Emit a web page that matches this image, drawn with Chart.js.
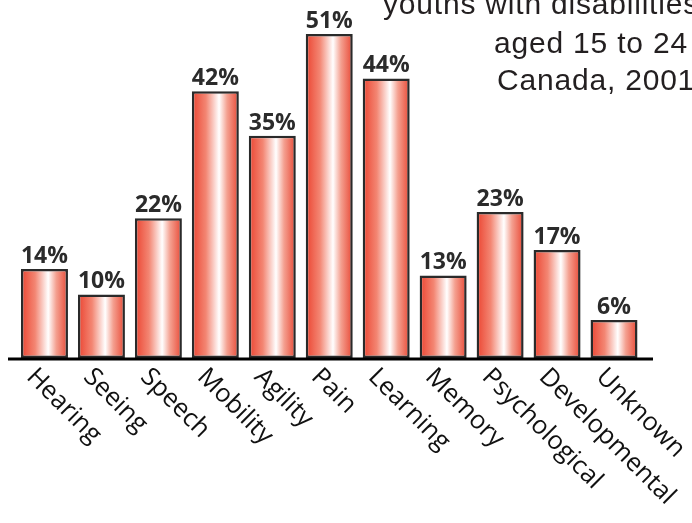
<!DOCTYPE html>
<html>
<head>
<meta charset="utf-8">
<script src="https://cdn.jsdelivr.net/npm/chart.js@4.4.1/dist/chart.umd.min.js"></script>
<style>
  html, body { margin: 0; padding: 0; background: #ffffff; }
  #wrap { width: 692px; height: 523px; position: relative; overflow: hidden; }
</style>
</head>
<body>
<div id="wrap"><canvas id="c" width="692" height="523"></canvas></div>
<script>
// Type of disability, youths aged 15 to 24 (percent)
const categories = ['Hearing', 'Seeing', 'Speech', 'Mobility', 'Agility', 'Pain',
  'Learning', 'Memory', 'Psychological', 'Developmental', 'Unknown'];
const percentages = [14, 10, 22, 42, 35, 51, 44, 13, 23, 17, 6];
const titleLines = ['youths with disabilities', 'aged 15 to 24', 'Canada, 2001'];

const BAR_FRACTION = 0.825;

// Horizontal red-white-red shading for each bar
function barGradient(context) {
  const chart = context.chart;
  const xs = chart.scales.x;
  if (!xs || !chart.chartArea) return '#ee4b39';
  const cx = xs.getPixelForValue(context.dataIndex);
  const w = (xs.width / categories.length) * BAR_FRACTION;
  const g = chart.ctx.createLinearGradient(cx - w / 2, 0, cx + w / 2, 0);
  g.addColorStop(0.00, '#eb4431');
  g.addColorStop(0.30, '#f38673');
  g.addColorStop(0.58, '#ffffff');
  g.addColorStop(0.75, '#f4a090');
  g.addColorStop(1.00, '#e84835');
  return g;
}

const decorations = {
  id: 'decorations',
  afterDatasetsDraw(chart) {
    const ctx = chart.ctx;
    const xs = chart.scales.x;
    const ys = chart.scales.y;
    const area = chart.chartArea;
    const base = ys.getPixelForValue(0);

    ctx.save();
    // baseline axis
    ctx.strokeStyle = '#000000';
    ctx.lineWidth = 3;
    ctx.beginPath();
    ctx.moveTo(area.left - 8, base + 1);
    ctx.lineTo(area.right + 10.5, base + 1);
    ctx.stroke();

    // value labels above bars
    ctx.fillStyle = '#2b2b2b';
    ctx.font = 'bold 23px "Open Sans", "Noto Sans", sans-serif';
    ctx.textAlign = 'center';
    ctx.textBaseline = 'alphabetic';
    percentages.forEach((v, i) => {
      const x = xs.getPixelForValue(i);
      const y = ys.getPixelForValue(v);
      ctx.fillText(v + '%', x, y - 6);
    });

    // slanted category labels
    ctx.fillStyle = '#111111';
    ctx.font = '25.5px "Open Sans", "Noto Sans", sans-serif';
    ctx.textAlign = 'left';
    categories.forEach((label, i) => {
      const x = xs.getPixelForValue(i);
      ctx.save();
      ctx.translate(x - 19, base + 20);
      ctx.rotate(Math.PI / 4);
      ctx.fillText(label, 0, 0);
      ctx.restore();
    });

    // title block
    ctx.fillStyle = '#231f20';
    ctx.font = '30px "Liberation Sans", Arial, sans-serif';
    if ('letterSpacing' in ctx) ctx.letterSpacing = '0.8px';
    ctx.textAlign = 'left';
    ctx.fillText(titleLines[0], 383, 14);
    ctx.fillText(titleLines[1], 494, 53);
    ctx.fillText(titleLines[2], 497, 90);
    ctx.restore();
  }
};

new Chart(document.getElementById('c'), {
  type: 'bar',
  data: {
    labels: categories,
    datasets: [{
      data: percentages,
      backgroundColor: barGradient,
      borderColor: '#2a2a2a',
      borderWidth: 2.5,
      borderSkipped: false,
      categoryPercentage: 1,
      barPercentage: BAR_FRACTION
    }]
  },
  options: {
    responsive: false,
    animation: false,
    devicePixelRatio: 1,
    layout: { padding: { left: 16, right: 49.5, top: 8.6, bottom: 165 } },
    plugins: { legend: { display: false }, tooltip: { enabled: false }, title: { display: false } },
    scales: {
      x: { display: false },
      y: { display: false, min: 0, max: 55 }
    }
  },
  plugins: [decorations]
});
</script>
</body>
</html>
